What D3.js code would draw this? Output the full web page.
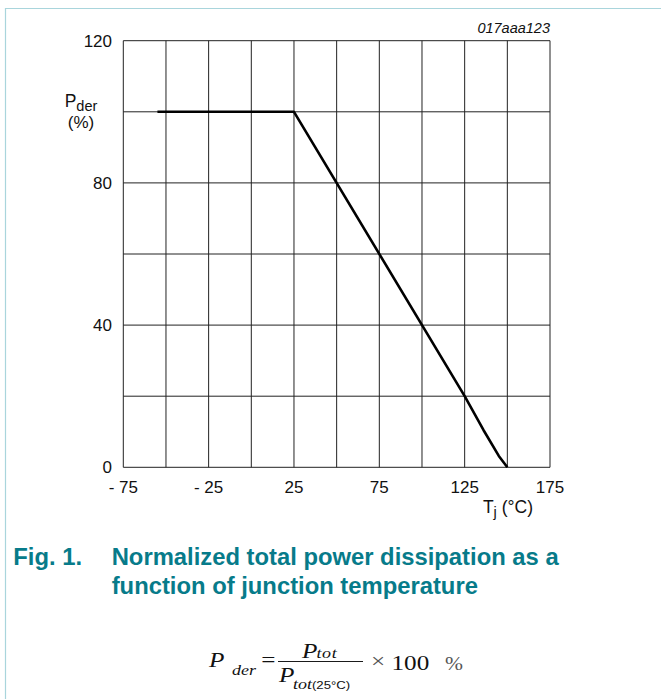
<!DOCTYPE html>
<html>
<head>
<meta charset="utf-8">
<script src="https://cdn.jsdelivr.net/npm/d3@7/dist/d3.min.js"></script>
<style>
  html, body { margin: 0; padding: 0; background: #fff; }
  svg { display: block; }
</style>
</head>
<body>
<svg id="chart" width="661" height="699"></svg>
<script>
// ---- data ----
const tempValues = [-55, 25, 125, 136, 145, 150];      // Tj (°C)
const pderValues = [100, 100, 20, 10.5, 3.2, 0];       // Pder (%)
const xTickValues = [-75, -50, -25, 0, 25, 50, 75, 100, 125, 150, 175];
const xTickLabels = ["- 75", "", "- 25", "", "25", "", "75", "", "125", "", "175"];
const yTickValues = [0, 20, 40, 60, 80, 100, 120];
const yTickLabels = ["0", "", "40", "", "80", "", "120"];
const figureId = "017aaa123";
const captionLabel = "Fig. 1.";
const captionLines = ["Normalized total power dissipation as a", "function of junction temperature"];

// ---- layout ----
const svg = d3.select("#chart");
const plotLeft = 123.3, plotRight = 550, plotTop = 40.7, plotBottom = 467.3;
const x = d3.scaleLinear().domain([-75, 175]).range([plotLeft, plotRight]);
const y = d3.scaleLinear().domain([0, 120]).range([plotBottom, plotTop]);
const sans = "'Liberation Sans', Arial, sans-serif";
const serif = "'Liberation Serif', 'Times New Roman', serif";
const teal = "#077b8a";

// page frame
svg.append("path")
  .attr("d", "M5.5,699 L5.5,8.5 L661,8.5")
  .attr("fill", "none").attr("stroke", "#a9d5dc").attr("stroke-width", 1.2);

// grid
const g = svg.append("g");
g.selectAll("line.vg").data(xTickValues).enter().append("line")
  .attr("x1", d => x(d)).attr("x2", d => x(d))
  .attr("y1", plotTop).attr("y2", plotBottom)
  .attr("stroke", "#222").attr("stroke-width", 1);
g.selectAll("line.hg").data(yTickValues).enter().append("line")
  .attr("y1", d => y(d)).attr("y2", d => y(d))
  .attr("x1", plotLeft).attr("x2", plotRight)
  .attr("stroke", "#222").attr("stroke-width", 1);

// x tick labels
g.selectAll("text.xt").data(xTickValues).enter().append("text")
  .attr("x", d => x(d)).attr("y", 493.3)
  .attr("text-anchor", "middle")
  .attr("font-family", sans).attr("font-size", 17).attr("fill", "#111")
  .text((d, i) => xTickLabels[i]);

// y tick labels
g.selectAll("text.yt").data(yTickValues).enter().append("text")
  .attr("x", 112).attr("y", d => y(d)).attr("dy", "0.35em")
  .attr("text-anchor", "end")
  .attr("font-family", sans).attr("font-size", 17).attr("fill", "#111")
  .text((d, i) => yTickLabels[i]);

// curve
const line = d3.line().x(d => x(d[0])).y(d => y(d[1]));
svg.append("path")
  .datum(tempValues.map((t, i) => [t, pderValues[i]]))
  .attr("d", line)
  .attr("fill", "none").attr("stroke", "#000").attr("stroke-width", 2.6)
  .attr("stroke-linejoin", "round");

// y axis title
const yt = svg.append("text").attr("x", 81).attr("y", 107.3)
  .attr("text-anchor", "middle").attr("font-family", sans).attr("font-size", 17.5).attr("fill", "#111");
yt.append("tspan").text("P");
yt.append("tspan").attr("font-size", 14.5).attr("dy", 4).text("der");
svg.append("text").attr("x", 81).attr("y", 127.5)
  .attr("text-anchor", "middle").attr("font-family", sans).attr("font-size", 17).attr("fill", "#111")
  .text("(%)");

// x axis title
const xt = svg.append("text").attr("x", 533).attr("y", 512.5)
  .attr("text-anchor", "end").attr("font-family", sans).attr("font-size", 17.5).attr("fill", "#111");
xt.append("tspan").text("T");
xt.append("tspan").attr("font-size", 14.5).attr("dy", 4).text("j");
xt.append("tspan").attr("dy", -4).text(" (°C)");

// figure id
svg.append("text").attr("x", 550).attr("y", 33.3)
  .attr("text-anchor", "end").attr("font-family", sans).attr("font-size", 14.5)
  .attr("font-style", "italic").attr("fill", "#111").text(figureId);

// caption
svg.append("text").attr("x", 13.3).attr("y", 564.5)
  .attr("font-family", sans).attr("font-size", 23.8).attr("font-weight", "bold")
  .attr("fill", teal).text(captionLabel);
svg.selectAll("text.cap").data(captionLines).enter().append("text")
  .attr("x", 111.7).attr("y", (d, i) => 564.5 + i * 29)
  .attr("font-family", sans).attr("font-size", 23.8).attr("font-weight", "bold")
  .attr("fill", teal).text(d => d);

// formula (horizontally stretched like the reference image)
const sx = 1.2, ox = 210;
const ux = t => ox + (t - ox) / sx;
const f = svg.append("g")
  .attr("transform", `translate(${ox},0) scale(${sx},1) translate(${-ox},0)`)
  .attr("fill", "#111").attr("font-family", serif);
f.append("text").attr("x", ux(209)).attr("y", 667).attr("font-size", 21).attr("font-style", "italic").text("P");
f.append("text").attr("x", ux(232)).attr("y", 675).attr("font-size", 15).attr("font-style", "italic").text("der");
f.append("text").attr("x", ux(268.3)).attr("y", 667).attr("text-anchor", "middle").attr("font-size", 21).text("=");
f.append("line").attr("x1", ux(278)).attr("x2", ux(363)).attr("y1", 661.5).attr("y2", 661.5)
  .attr("stroke", "#1a1a1a").attr("stroke-width", 1.1);
f.append("text").attr("x", ux(302)).attr("y", 658).attr("font-size", 21).attr("font-style", "italic").text("P");
f.append("text").attr("x", ux(316.5)).attr("y", 658.5).attr("font-size", 15).attr("font-style", "italic").attr("letter-spacing", 0.5).text("tot");
f.append("text").attr("x", ux(279)).attr("y", 681.7).attr("font-size", 21).attr("font-style", "italic").text("P");
const dsub = f.append("text").attr("x", ux(293)).attr("y", 689.5).attr("font-size", 15).attr("font-style", "italic");
dsub.append("tspan").text("tot");
dsub.append("tspan").attr("font-style", "normal").attr("font-family", sans).attr("font-size", 11).text("(25°C)");
f.append("text").attr("x", ux(371)).attr("y", 668).attr("font-size", 21).attr("fill", "#555").text("×");
f.append("text").attr("x", ux(391.5)).attr("y", 670).attr("font-size", 21).text("100");
f.append("text").attr("x", ux(445)).attr("y", 670).attr("font-size", 18).attr("fill", "#555").text("%");
</script>
</body>
</html>
